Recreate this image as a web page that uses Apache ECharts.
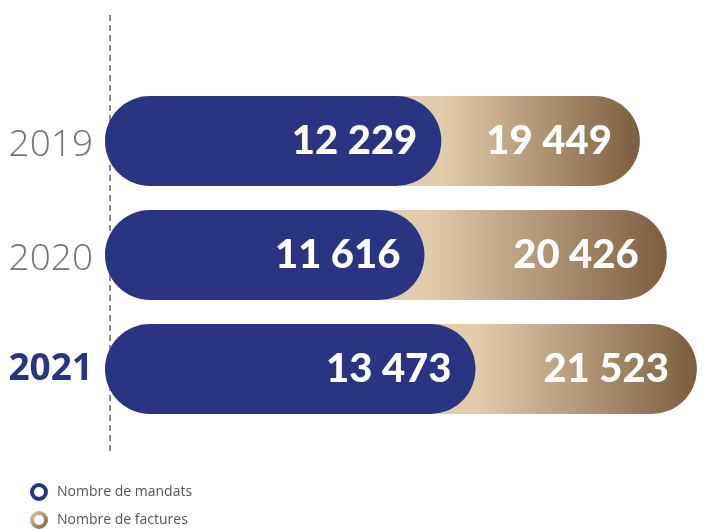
<!DOCTYPE html>
<html>
<head>
<meta charset="utf-8">
<script src="https://cdn.jsdelivr.net/npm/echarts@6/dist/echarts.min.js"></script>
<style>
  html, body { margin: 0; padding: 0; background: #fff; }
  #chart { width: 720px; height: 529px; }
</style>
</head>
<body>
<div id="chart"></div>
<script>
// données
const years = ['2019', '2020', '2021'];
const mandats = [12229, 11616, 13473];
const factures = [19449, 20426, 21523];
const seriesNames = ['Nombre de mandats', 'Nombre de factures'];

const navy = '#293583';
const goldLight = '#e2cdaa';
const goldDark = '#7c5e3e';

function fmt(v) {
  return String(v).replace(/\B(?=(\d{3})+(?!\d))/g, ' ');
}

const chart = echarts.init(document.getElementById('chart'));

const valueLabel = {
  show: true,
  position: 'insideRight',
  color: '#fff',
  fontFamily: 'Lato, Roboto, sans-serif',
  fontWeight: 900,
  fontSize: 40,
  formatter: p => fmt(p.value)
};

const legendBase = {
  left: 30,
  padding: 0,
  itemWidth: 14,
  itemHeight: 14,
  textStyle: {
    color: '#555',
    fontSize: 14,
    fontFamily: '"Open Sans", sans-serif',
    padding: [0, 0, 0, 6]
  }
};

chart.setOption({
  animation: false,
  grid: {
    left: 105,
    right: 10,
    top: 84,
    height: 342
  },
  legend: [
    Object.assign({}, legendBase, {
      top: 483,
      data: [{
        name: seriesNames[0],
        icon: 'circle',
        itemStyle: { color: '#fff', borderColor: navy, borderWidth: 4 }
      }]
    }),
    Object.assign({}, legendBase, {
      top: 511,
      data: [{
        name: seriesNames[1],
        icon: 'circle',
        itemStyle: {
          color: '#fff',
          borderWidth: 4,
          borderColor: new echarts.graphic.LinearGradient(0, 0, 1, 1, [
            { offset: 0, color: goldLight },
            { offset: 1, color: goldDark }
          ])
        }
      }]
    })
  ],
  graphic: [
    {
      type: 'line',
      z: -1,
      shape: { x1: 110, y1: 15, x2: 110, y2: 455 },
      style: { stroke: '#8a8a8a', lineWidth: 2, lineDash: [6, 4] }
    }
  ],
  xAxis: {
    type: 'value',
    min: 0,
    max: 22000,
    show: false
  },
  yAxis: {
    type: 'category',
    data: years,
    inverse: true,
    axisLine: { show: false },
    axisTick: { show: false },
    axisLabel: {
      margin: 12,
      formatter: v => (v === '2021' ? '{b|' + v + '}' : '{n|' + v + '}'),
      rich: {
        n: {
          fontSize: 37,
          fontWeight: 300,
          color: '#747474',
          fontFamily: '"Open Sans", sans-serif',
          padding: [8, 0, 0, 0]
        },
        b: {
          fontSize: 37,
          fontWeight: 'bold',
          color: navy,
          fontFamily: '"Open Sans", sans-serif'
        }
      }
    }
  },
  series: [
    {
      name: seriesNames[1],
      type: 'bar',
      barWidth: 90,
      barGap: '-100%',
      data: factures.map((v, i) => ({
        value: v,
        itemStyle: {
          color: new echarts.graphic.LinearGradient(0, 0, 1, 0, [
            { offset: 0, color: goldLight },
            { offset: mandats[i] / v, color: goldLight },
            { offset: 1, color: goldDark }
          ])
        }
      })),
      itemStyle: { borderRadius: 45, color: goldLight },
      label: Object.assign({}, valueLabel, { distance: 28 })
    },
    {
      name: seriesNames[0],
      type: 'bar',
      barWidth: 90,
      barGap: '-100%',
      data: mandats,
      itemStyle: { borderRadius: 45, color: navy },
      label: Object.assign({}, valueLabel, { distance: 24 })
    }
  ]
});
</script>
</body>
</html>
